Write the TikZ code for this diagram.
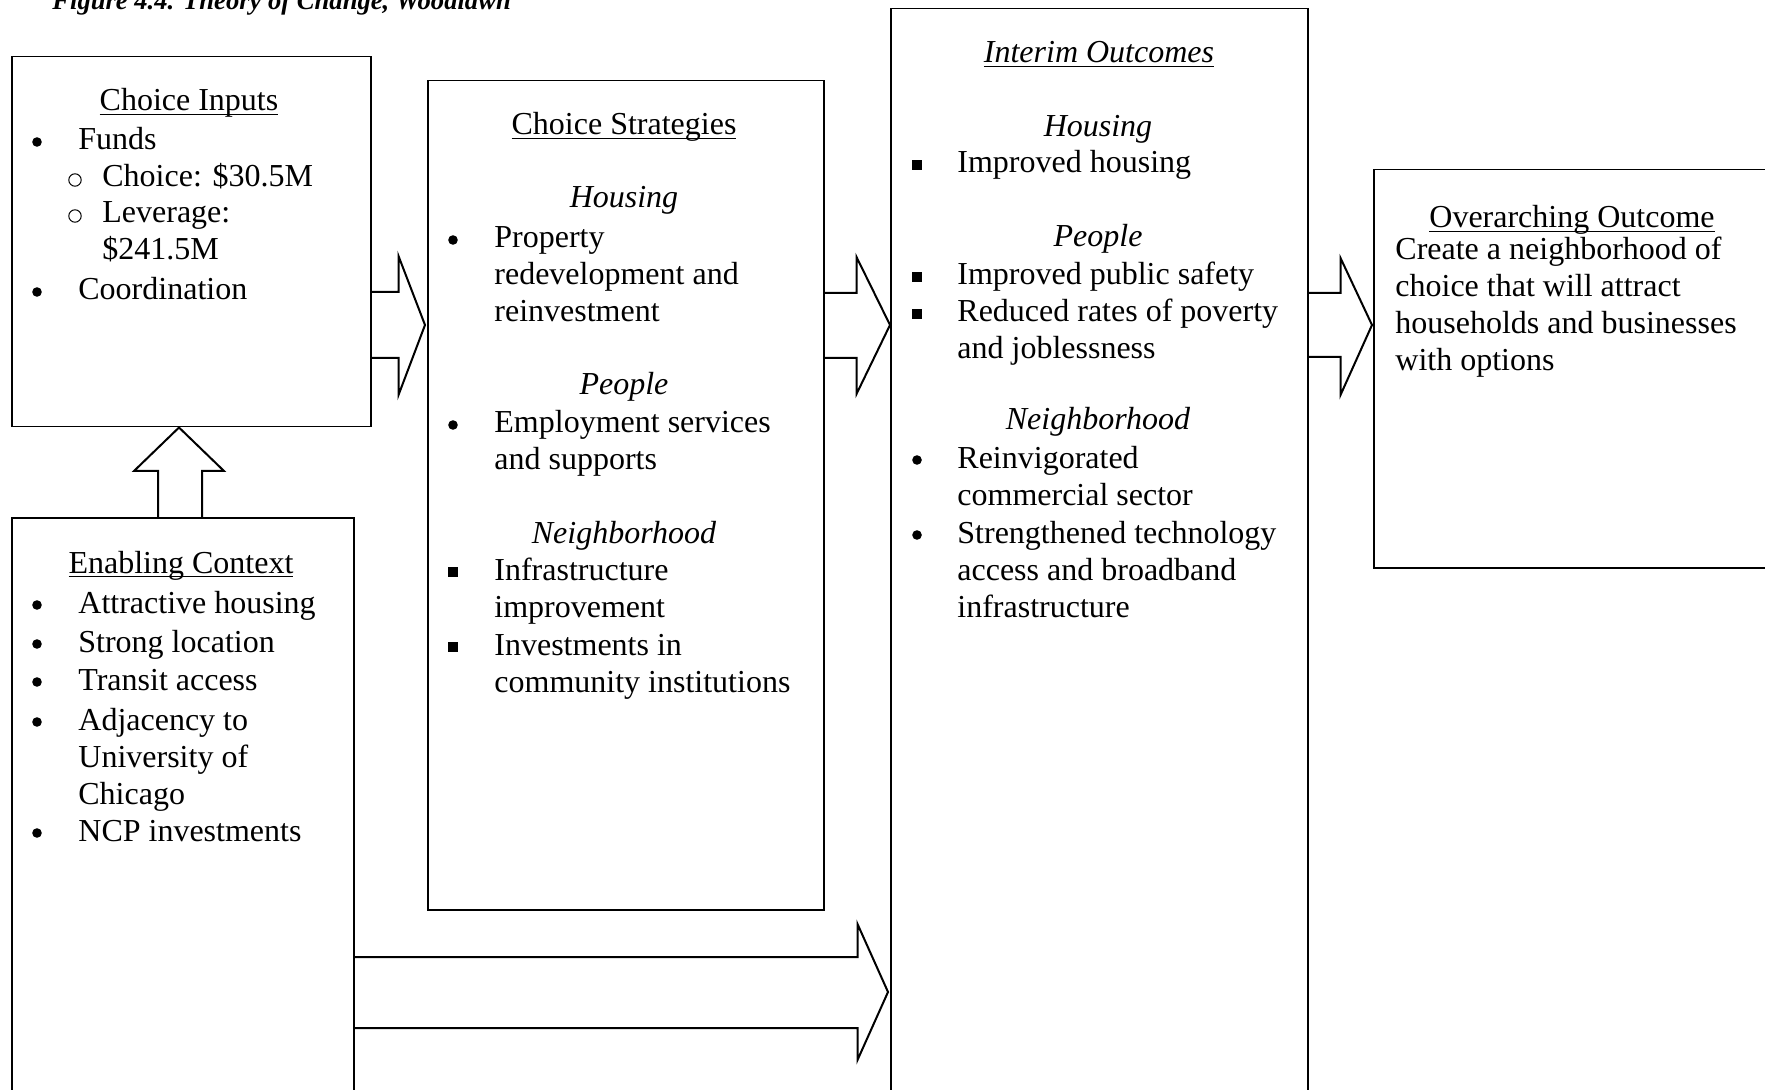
\documentclass[tikz,border=0pt]{standalone}
\usepackage{fontspec}
\setmainfont{Liberation Serif}
\usetikzlibrary{calc}
\newsavebox\ulbox
\newcommand{\undl}[1]{\sbox\ulbox{#1}\rlap{\rule[-2pt]{\wd\ulbox}{0.7pt}}\usebox\ulbox}
\newcommand{\lns}[1]{\begin{tabular}[t]{@{}l@{}}#1\end{tabular}}
\newcommand{\bodyf}{\fontsize{16}{18.5}\selectfont}
\begin{document}
\begin{tikzpicture}[x=0.5pt,y=-0.5pt,
  box/.style={draw, line width=0.75pt, anchor=north west, inner sep=0pt},
  hd/.style={anchor=base, inner sep=0pt, font=\bodyf},
  hdi/.style={anchor=base, inner sep=0pt, font=\bodyf\itshape},
  tx/.style={anchor=base west, inner sep=0pt, font=\bodyf},
  bl/.style={circle, fill=black, minimum size=4.8pt, inner sep=0pt},
  circb/.style={circle, draw=black, line width=0.5pt, minimum size=6.2pt, inner sep=0pt},
  sq/.style={fill=black, minimum size=5pt, inner sep=0pt},
  barrow/.style={draw, line width=1pt, line join=miter}]
\useasboundingbox (0,0) rectangle (1765,1090);
\clip (0,0) rectangle (1765,1090);
\fill[white] (0,0) rectangle (1765,1090);

\node[anchor=base west, inner sep=0pt, font=\fontsize{13.3}{15}\selectfont\bfseries\itshape] (fig) at (52,10) {Figure 4.4. Theory of Change, Woodlawn};

% boxes
\node[box, minimum width=179.5pt, minimum height=185pt] (ci) at (11,56) {};
\node[box, minimum width=198pt, minimum height=414.5pt] (cs) at (427,80) {};
\node[box, minimum width=208.5pt, minimum height=546pt] (io) at (890,8) {};
\node[box, minimum width=201pt, minimum height=199pt] (oo) at (1373,169) {};
\node[box, minimum width=171pt, minimum height=291.5pt] (ec) at (11,517) {};

% Choice Inputs
\node[hd] (ciT) at (189,111) {\undl{Choice Inputs}};
\node[bl] (ciB1) at (37,142) {};
\node[tx] (ci1) at (78,150) {Funds};
\node[circb] (ciB2) at (75,180) {};
\node[tx] (ci2) at (102,187) {Choice: \$30.5M};
\node[circb] (ciB3) at (75,216) {};
\node[tx] (ci3) at (102,223) {\lns{Leverage:\\ \$241.5M}};
\node[bl] (ciB4) at (37,292) {};
\node[tx] (ci4) at (78,300) {Coordination};

% Choice Strategies
\node[hd] (csT) at (624,135) {\undl{Choice Strategies}};
\node[hdi] (csH) at (624,208) {Housing};
\node[bl] (csB1) at (453,240) {};
\node[tx] (cs1) at (494,248) {\lns{Property\\ redevelopment and\\ reinvestment}};
\node[hdi] (csP) at (624,395) {People};
\node[bl] (csB2) at (453,425) {};
\node[tx] (cs2) at (494,433) {\lns{Employment services\\ and supports}};
\node[hdi] (csN) at (624,543) {Neighborhood};
\node[sq] (csB3) at (453,572) {};
\node[tx] (cs3) at (494,580) {\lns{Infrastructure\\ improvement}};
\node[sq] (csB4) at (453,647) {};
\node[tx] (cs4) at (494,655) {\lns{Investments in\\ community institutions}};

% Interim Outcomes
\node[hdi] (ioT) at (1099,63) {\undl{Interim Outcomes}};
\node[hdi] (ioH) at (1098,137) {Housing};
\node[sq] (ioB1) at (917,165) {};
\node[tx] (io1) at (957,173) {Improved housing};
\node[hdi] (ioP) at (1098,247) {People};
\node[sq] (ioB2) at (917,277) {};
\node[tx] (io2) at (957,285) {Improved public safety};
\node[sq] (ioB3) at (917,314) {};
\node[tx] (io3) at (957,322) {\lns{Reduced rates of poverty\\ and joblessness}};
\node[hdi] (ioN) at (1098,430) {Neighborhood};
\node[bl] (ioB4) at (917,460) {};
\node[tx] (io4) at (957,468) {\lns{Reinvigorated\\ commercial sector}};
\node[bl] (ioB5) at (917,535) {};
\node[tx] (io5) at (957,543) {\lns{Strengthened technology\\ access and broadband\\ infrastructure}};

% Overarching Outcome
\node[hd] (ooT) at (1572,228) {\undl{Overarching Outcome}};
\node[tx] (oo1) at (1395,260) {\lns{Create a neighborhood of\\ choice that will attract\\ households and businesses\\ with options}};

% Enabling Context
\node[hd] (ecT) at (181,573) {\undl{Enabling Context}};
\node[bl] (ecB1) at (37,605) {};
\node[tx] (ec1) at (78,613) {Attractive housing};
\node[bl] (ecB2) at (37,644) {};
\node[tx] (ec2) at (78,652) {Strong location};
\node[bl] (ecB3) at (37,682) {};
\node[tx] (ec3) at (78,690) {Transit access};
\node[bl] (ecB4) at (37,722) {};
\node[tx] (ec4) at (78,730) {\lns{Adjacency to\\ University of\\ Chicago}};
\node[bl] (ecB5) at (37,833) {};
\node[tx] (ec5) at (78,841) {NCP investments};

% block arrows
\draw[barrow] ($(ci.north east)+(0,236)$) -- ++(27,0) -- ++(0,-36) -- ($(cs.north west)+(-2,245)$) -- ($(ci.north east)+(27,339)$) -- ++(0,-37) -- ($(ci.north east)+(0,302)$);
\draw[barrow] ($(cs.north east)+(0,213)$) -- ++(32,0) -- ++(0,-36) -- ($(io.north west)+(0,317)$) -- ($(cs.north east)+(32,314)$) -- ++(0,-36) -- ($(cs.north east)+(0,278)$);
\draw[barrow] ($(io.north east)+(0,285)$) -- ++(32,0) -- ++(0,-35) -- ($(oo.north west)+(-1,156)$) -- ($(io.north east)+(32,387)$) -- ++(0,-38) -- ($(io.north east)+(0,349)$);
\draw[barrow] ($(ec.north west)+(147,0)$) -- ++(0,-46) -- ++(-24,0) -- ($(ci.south west)+(168,0)$) -- ($(ec.north west)+(213,-46)$) -- ++(-22,0) -- ($(ec.north west)+(191,0)$);
\draw[barrow] ($(ec.north east)+(0,440)$) -- ++(503,0) -- ++(0,-33) -- ($(io.north west)+(-2,984)$) -- ($(ec.north east)+(503,543)$) -- ++(0,-32) -- ($(ec.north east)+(0,511)$);
\end{tikzpicture}
\end{document}
